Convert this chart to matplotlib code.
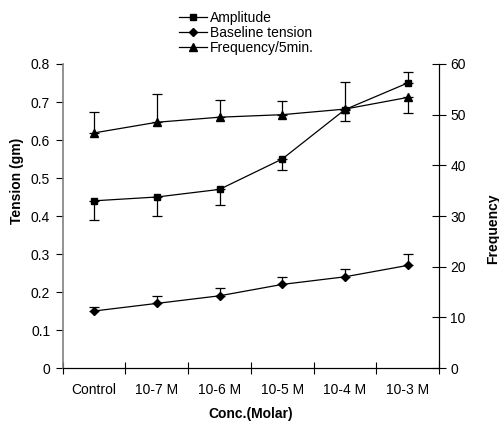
import numpy as np
import matplotlib
matplotlib.use("Agg")
import matplotlib.pyplot as plt

plt.rcParams['font.family'] = ['Liberation Sans', 'DejaVu Sans']

# data
conc = ["Control", "10-7 M", "10-6 M", "10-5 M", "10-4 M", "10-3 M"]
amplitude = [0.44, 0.45, 0.47, 0.55, 0.68, 0.75]           # tension (gm)
amplitude_lo = [0.05, 0.05, 0.04, 0.03, 0.03, 0.0]
amplitude_hi = [0.0, 0.0, 0.0, 0.0, 0.0, 0.03]
baseline = [0.15, 0.17, 0.19, 0.22, 0.24, 0.27]            # tension (gm)
baseline_hi = [0.01, 0.02, 0.02, 0.02, 0.02, 0.03]
frequency = [46.4, 48.5, 49.5, 50.0, 51.1, 53.4]           # per 5 min
frequency_lo = [0, 0, 0, 0, 0, 3.1]
frequency_hi = [4.1, 5.5, 3.3, 2.6, 5.3, 0]

x = np.arange(len(conc))

fig = plt.figure(figsize=(4.99, 4.23), dpi=100)
ax = fig.add_axes([0.1257, 0.130, 0.7541, 0.7187])
ax2 = ax.twinx()

line_kw = dict(color='black', lw=0.9, ecolor='black', elinewidth=0.9, capsize=3.5, capthick=0.9)
ax.errorbar(x, amplitude, yerr=[amplitude_lo, amplitude_hi], marker='s', ms=5, **line_kw)
ax.errorbar(x, baseline, yerr=[np.zeros(6), baseline_hi], marker='D', ms=4.5, **line_kw)
ax2.errorbar(x, frequency, yerr=[frequency_lo, frequency_hi], marker='^', ms=6, **line_kw)

ax.set_xlim(-0.5, 5.5)
ax.set_ylim(0, 0.8)
ax.set_yticks(np.arange(0, 0.81, 0.1))
ax.set_yticklabels(['0'] + ['%.1f' % v for v in np.arange(0.1, 0.81, 0.1)])
ax2.set_ylim(0, 60)
ax2.set_yticks(range(0, 61, 10))

ax.set_xticks(np.arange(-0.5, 5.6, 1))
ax.set_xticklabels([])
ax.set_xticks(x, minor=True)
ax.set_xticklabels(conc, minor=True)
ax.tick_params(axis='x', which='major', direction='inout', length=9, width=0.8)
ax.tick_params(axis='x', which='minor', length=0, labelsize=10, pad=11)
ax.tick_params(axis='y', direction='out', length=5, width=0.8, labelsize=10, pad=4)
ax2.tick_params(axis='y', direction='inout', length=10, width=0.8, labelsize=10, pad=3)

for a in (ax, ax2):
    a.spines['top'].set_visible(False)
ax.spines['left'].set_color('#808080')
ax2.spines['left'].set_visible(False)
ax.spines['left'].set_linewidth(1.2)

ax.set_xlabel("Conc.(Molar)", fontsize=10, fontweight='bold', labelpad=7)
fig.text(0.035, 0.572, "Tension (gm)", rotation=90, fontsize=10, fontweight='bold',
         ha='center', va='center')
fig.text(0.988, 0.459, "Frequency", rotation=90, fontsize=10, fontweight='bold',
         ha='center', va='center')

handles = [plt.Line2D([], [], color='black', lw=0.9, marker=m, ms=s) for m, s in
           [('s', 5), ('D', 4.5), ('^', 6)]]
fig.legend(handles, ["Amplitude", "Baseline tension", "Frequency/5min."],
           loc='upper left', bbox_to_anchor=(0.337, 1.0), frameon=False, fontsize=10,
           handlelength=2.0, handletextpad=0.2, labelspacing=0.05, borderpad=0.3)

fig.savefig("out.png", dpi=100)
